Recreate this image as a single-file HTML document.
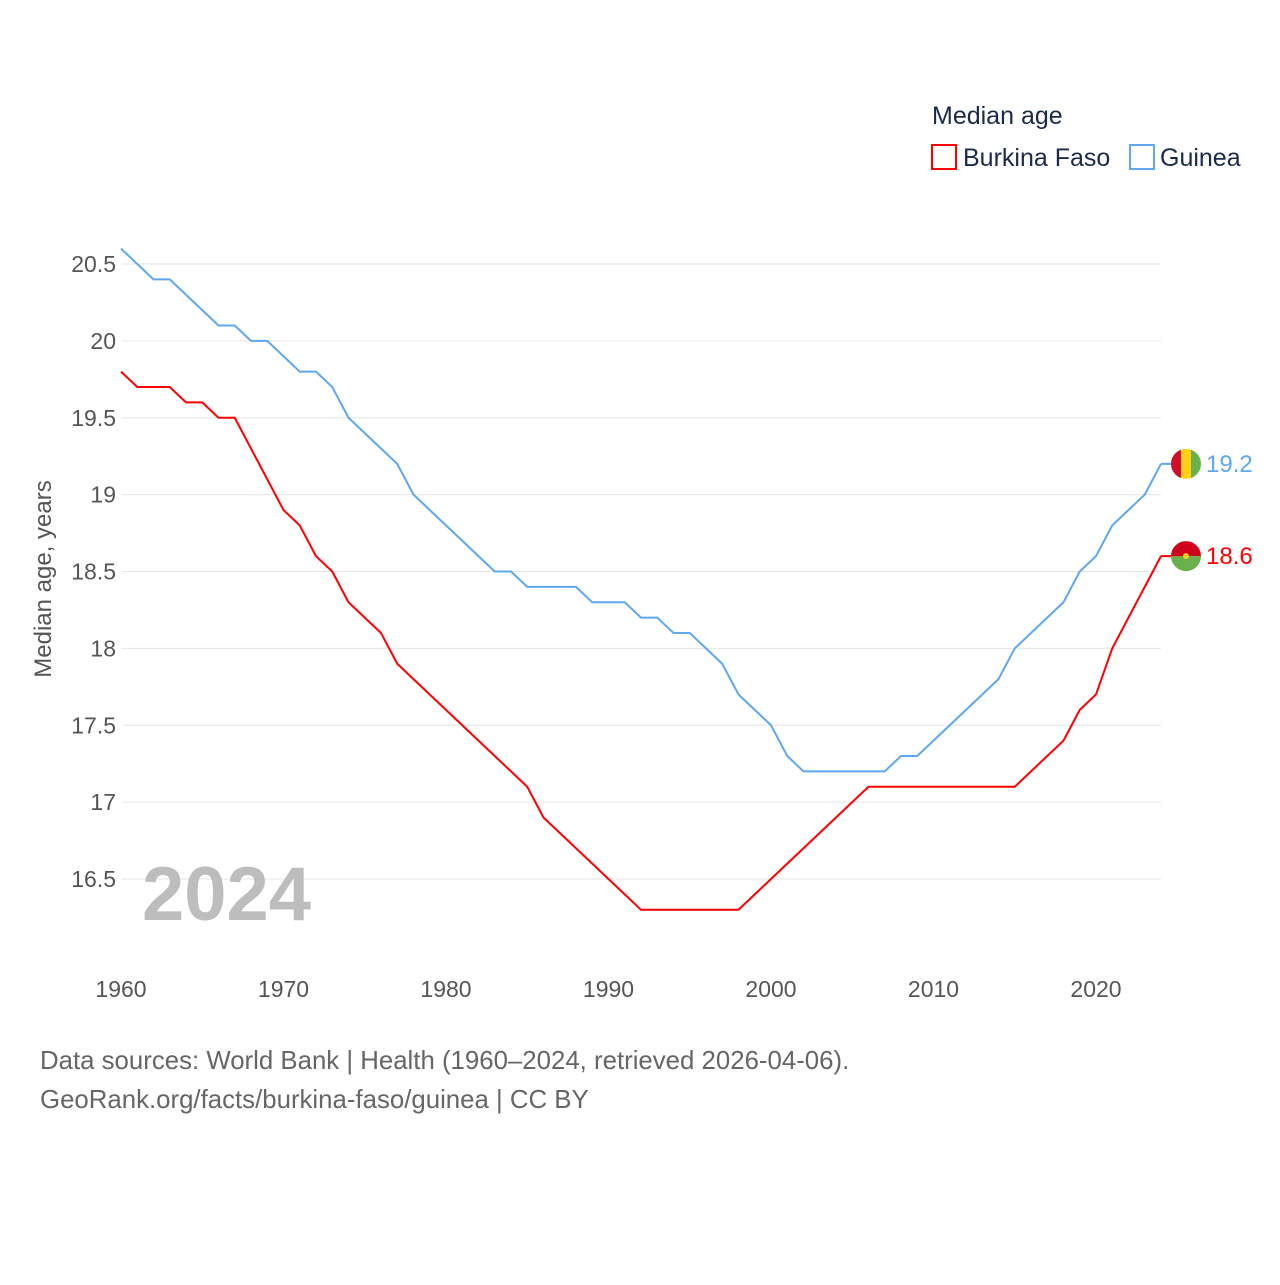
<!DOCTYPE html>
<html><head><meta charset="utf-8"><style>
body{margin:0;background:#fff;font-family:"Liberation Sans",sans-serif}
svg text{font-family:"Liberation Sans",sans-serif}
</style></head><body>
<svg id="chart" width="1280" height="1280" viewBox="0 0 1280 1280">
<g id="grid"></g><g id="lines"></g>
<text x="932" y="124" font-size="25" fill="#1a2a4a">Median age</text>
<g><rect x="932" y="145" width="24" height="24" fill="none" stroke="#f00" stroke-width="2"/><text x="963" y="166" font-size="25" fill="#1a2a4a">Burkina Faso</text></g>
<g><rect x="1130" y="145" width="24" height="24" fill="none" stroke="#5ea8f0" stroke-width="2"/><text x="1160" y="166" font-size="25" fill="#1a2a4a">Guinea</text></g>
<text x="0" y="0" font-size="24" fill="#555" transform="translate(51,579) rotate(-90)" text-anchor="middle">Median age, years</text>
<text x="142" y="920" font-size="76" font-weight="bold" fill="#bdbdbd">2024</text>
<text x="40" y="1069" font-size="25.8" fill="#666">Data sources: World Bank | Health (1960–2024, retrieved 2026-04-06).</text>
<text x="40" y="1108" font-size="25.8" fill="#666">GeoRank.org/facts/burkina-faso/guinea | CC BY</text>
</svg>
<script>
const years=[];for(let y=1960;y<=2024;y++)years.push(y);
const guinea=[20.6,20.5,20.4,20.4,20.3,20.2,20.1,20.1,20.0,20.0,19.9,19.8,19.8,19.7,19.5,19.4,19.3,19.2,19.0,18.9,18.8,18.7,18.6,18.5,18.5,18.4,18.4,18.4,18.4,18.3,18.3,18.3,18.2,18.2,18.1,18.1,18.0,17.9,17.7,17.6,17.5,17.3,17.2,17.2,17.2,17.2,17.2,17.2,17.3,17.3,17.4,17.5,17.6,17.7,17.8,18.0,18.1,18.2,18.3,18.5,18.6,18.8,18.9,19.0,19.2];
const burkina=[19.8,19.7,19.7,19.7,19.6,19.6,19.5,19.5,19.3,19.1,18.9,18.8,18.6,18.5,18.3,18.2,18.1,17.9,17.8,17.7,17.6,17.5,17.4,17.3,17.2,17.1,16.9,16.8,16.7,16.6,16.5,16.4,16.3,16.3,16.3,16.3,16.3,16.3,16.3,16.4,16.5,16.6,16.7,16.8,16.9,17.0,17.1,17.1,17.1,17.1,17.1,17.1,17.1,17.1,17.1,17.1,17.2,17.3,17.4,17.6,17.7,18.0,18.2,18.4,18.6];
const yTicks=[16.5,17,17.5,18,18.5,19,19.5,20,20.5];
const xTicks=[1960,1970,1980,1990,2000,2010,2020];
const NS="http://www.w3.org/2000/svg";
const X=y=>121+(y-1960)*16.25;
const Y=v=>264+(20.5-v)*153.75;
function mk(t,a,p){const e=document.createElementNS(NS,t);for(const k in a)e.setAttribute(k,a[k]);p.appendChild(e);return e;}
const grid=document.getElementById('grid'),lines=document.getElementById('lines');
yTicks.forEach(v=>{
 const l=mk('line',{x1:122,x2:1161,y1:Y(v),y2:Y(v),stroke:'#e6e6e6','stroke-width':1},grid);
 
 
 const t=mk('text',{x:116,y:Y(v)+8,'font-size':23,fill:'#555','text-anchor':'end'},grid);t.textContent=String(v);
 
 
});
xTicks.forEach(v=>{
 const t=mk('text',{x:X(v),y:997,'font-size':23,fill:'#555','text-anchor':'middle'},grid);t.textContent=v;
 
 
});
function series(vals,col,name){
 const p=mk('polyline',{points:vals.map((v,i)=>X(years[i])+','+Y(v)).join(' '),fill:'none',stroke:col,'stroke-width':2},lines);
 
 
 const last=vals[vals.length-1],ly=Y(last);
 mk('line',{x1:X(2024),x2:1186,y1:ly,y2:ly,stroke:col,'stroke-width':2},lines);
 const t=mk('text',{x:1206,y:ly+8,'font-size':24,fill:col},lines);t.textContent=last.toFixed(1);
 
 
 return ly;
}
const gy=series(guinea,'#5ea8f0','guinea');
const by=series(burkina,'#f00','burkina-faso');
const cp=mk('clipPath',{id:'cg'},lines);mk('circle',{cx:1186,cy:gy,r:15},cp);
const gf=mk('g',{'clip-path':'url(#cg)'},lines);


mk('rect',{x:1171,y:gy-15,width:10,height:30,fill:'#ce1126'},gf);
mk('rect',{x:1181,y:gy-15,width:10,height:30,fill:'#fcd116'},gf);
mk('rect',{x:1191,y:gy-15,width:10,height:30,fill:'#6ab04c'},gf);
const cp2=mk('clipPath',{id:'cb'},lines);mk('circle',{cx:1186,cy:by,r:15},cp2);
const bf=mk('g',{'clip-path':'url(#cb)'},lines);


mk('rect',{x:1171,y:by-15,width:30,height:15,fill:'#d0021b'},bf);
mk('rect',{x:1171,y:by,width:30,height:15,fill:'#6ab04c'},bf);
mk('circle',{cx:1186,cy:by,r:3,fill:'#fcd116'},bf);
</script>
</body></html>
